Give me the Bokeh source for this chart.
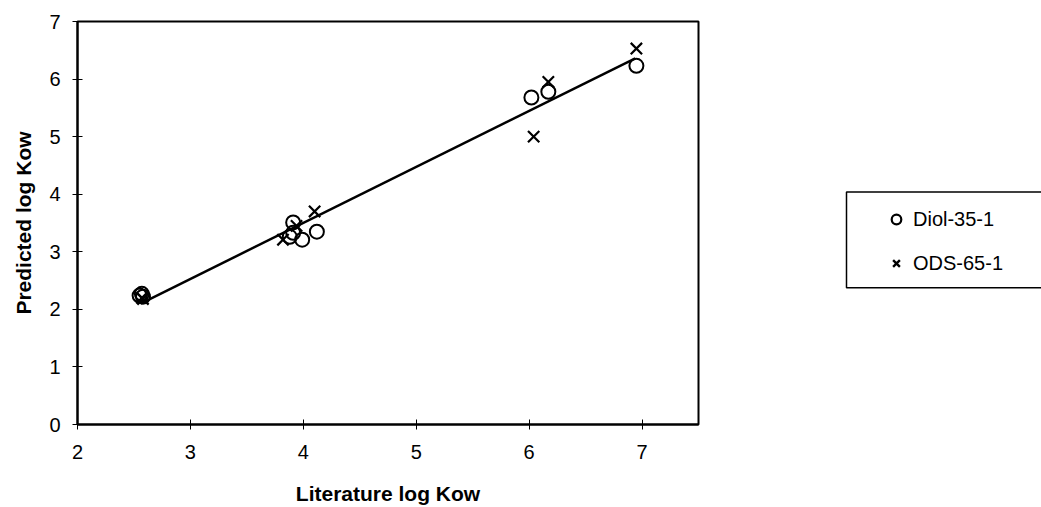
from bokeh.plotting import figure
from bokeh.layouts import row
from bokeh.models import Legend, LegendItem, Range1d, FixedTicker, BoxAnnotation
from bokeh.embed import file_html
from bokeh.resources import INLINE

# Data
diol_x = [2.55, 2.57, 2.58, 3.88, 3.91, 3.91, 3.99, 4.12, 6.02, 6.17, 6.95]
diol_y = [2.24, 2.27, 2.22, 3.26, 3.51, 3.33, 3.21, 3.35, 5.68, 5.78, 6.23]
ods_x = [2.57, 2.58, 3.82, 3.94, 4.10, 6.04, 6.17, 6.95]
ods_y = [2.20, 2.18, 3.21, 3.45, 3.70, 5.00, 5.95, 6.53]
fit_x = [2.56, 6.94]
fit_y = [2.10, 6.36]
x_ticks = [2, 3, 4, 5, 6, 7]
y_ticks = [0, 1, 2, 3, 4, 5, 6, 7]
series_names = ["Diol-35-1", "ODS-65-1"]

FONT = "Liberation Sans"
TOP, BOTTOM = 21, 82

p = figure(width=703, height=507, output_backend="svg", toolbar_location=None,
           x_range=Range1d(2, 7.5), y_range=Range1d(0, 7))
p.min_border_left = 77
p.min_border_right = 5
p.min_border_top = TOP
p.min_border_bottom = BOTTOM

p.xgrid.visible = False
p.ygrid.visible = False
p.outline_line_color = "black"
p.outline_line_width = 2
p.background_fill_color = "white"
p.border_fill_color = "white"

for ax in (p.xaxis[0], p.yaxis[0]):
    ax.axis_line_color = "black"
    ax.axis_line_width = 2
    ax.major_tick_in = 5
    ax.major_tick_out = 5
    ax.minor_tick_line_color = None
    ax.major_tick_line_color = "black"
    ax.major_tick_line_width = 1
    ax.major_label_text_font = FONT
    ax.major_label_text_font_size = "20px"
    ax.major_label_text_color = "black"
    ax.axis_label_text_font = FONT
    ax.axis_label_text_font_size = "21px"
    ax.axis_label_text_font_style = "bold"
    ax.axis_label_text_color = "black"

p.xaxis.ticker = FixedTicker(ticks=x_ticks)
p.yaxis.ticker = FixedTicker(ticks=y_ticks)
p.xaxis.axis_label = "Literature log Kow"
p.yaxis.axis_label = "Predicted log Kow"
p.xaxis.major_label_standoff = 15
p.xaxis.axis_label_standoff = 20
p.yaxis.major_label_standoff = 12
p.yaxis.axis_label_standoff = 11

p.line(fit_x, fit_y, line_color="black", line_width=2.5)
p.scatter(diol_x, diol_y, marker="circle", size=14, fill_color=None,
          line_color="black", line_width=2)
p.scatter(ods_x, ods_y, marker="x", size=16, line_color="black", line_width=2.2)

# Legend panel to the right of the chart (frame aligned with the chart's frame)
FH = 507 - TOP - BOTTOM
p2 = figure(width=338, height=507, output_backend="svg", toolbar_location=None,
            x_range=Range1d(0, 338), y_range=Range1d(0, FH),
            x_axis_location=None, y_axis_location=None)
p2.min_border_left = 0
p2.min_border_right = 0
p2.min_border_top = TOP
p2.min_border_bottom = BOTTOM
p2.xgrid.visible = False
p2.ygrid.visible = False
p2.outline_line_color = None
p2.background_fill_color = "white"
p2.border_fill_color = "white"

# legend keys (placed outside the visible range)
k1 = p2.scatter([-100], [-100], marker="circle", size=14, fill_color=None,
                line_color="black", line_width=2.2)
k2 = p2.scatter([-100], [-100], marker="x", size=16, line_color="black", line_width=2.4)

box = BoxAnnotation(left=143, right=360, bottom=425 - 288, top=425 - 192,
                    fill_color=None, fill_alpha=0, line_color="black",
                    line_alpha=1.0, line_width=1.5)
p2.add_layout(box)

legend = Legend(items=[LegendItem(label=series_names[0], renderers=[k1]),
                       LegendItem(label=series_names[1], renderers=[k2])],
                location=(181, 425 - 276))
legend.label_text_font = FONT
legend.label_text_font_size = "20px"
legend.label_text_color = "black"
legend.border_line_color = None
legend.background_fill_color = None
legend.padding = 0
legend.margin = 0
legend.spacing = 20
legend.glyph_width = 24
legend.glyph_height = 24
legend.label_height = 24
legend.label_standoff = 5
p2.add_layout(legend, "center")

layout = row(p, p2, spacing=0)
open("out.html", "w").write(file_html(layout, INLINE))
